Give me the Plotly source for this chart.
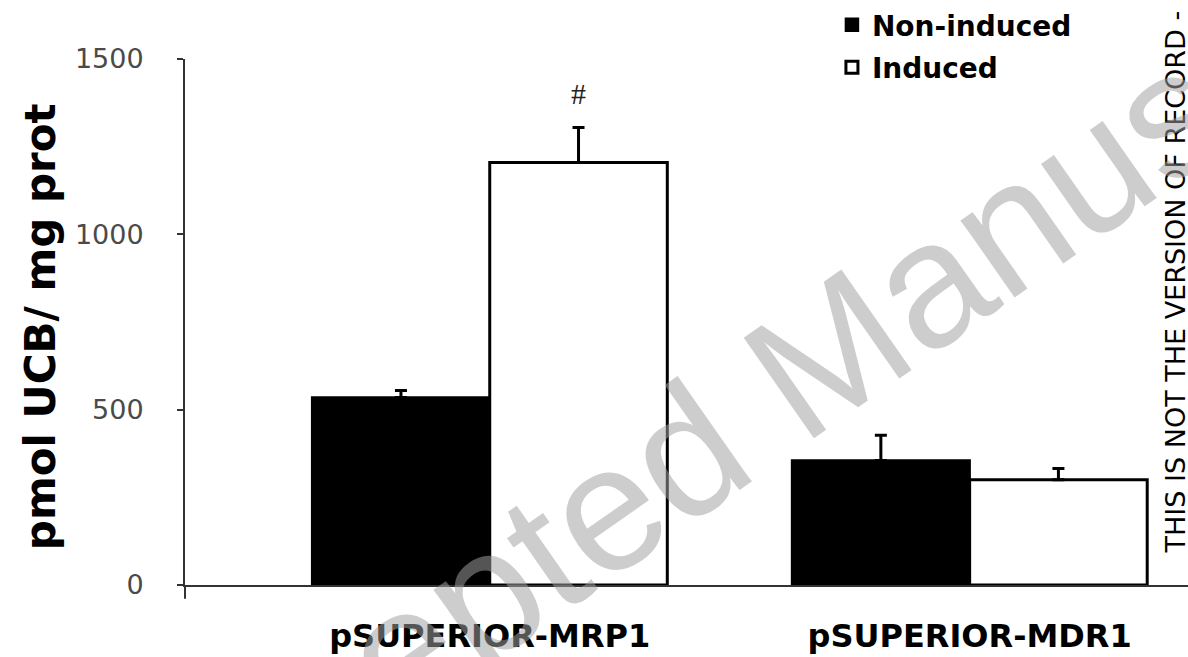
import plotly.graph_objects as go

categories = ["pSUPERIOR-MRP1", "pSUPERIOR-MDR1"]
series_names = ["Non-induced", "Induced"]
non_induced = [535, 355]
non_induced_err = [20, 72]
induced = [1205, 300]
induced_err = [100, 32]
y_ticks = [0, 500, 1000, 1500]
y_title = "pmol UCB/ mg prot"
sig_mark = "#"
side_note = "THIS IS NOT THE VERSION OF RECORD -"
watermark = "Accepted Manuscript"

fig = go.Figure()
fig.add_trace(go.Bar(
    name=series_names[0], x=categories, y=non_induced, legendgroup="g1",
    marker=dict(color="black", line=dict(color="black", width=2.5)),
    error_y=dict(type="data", symmetric=False, array=non_induced_err,
                 arrayminus=[0] * len(non_induced_err),
                 color="black", thickness=3, width=6),
))
fig.add_trace(go.Bar(
    name=series_names[1], x=categories, y=induced, legendgroup="g2",
    marker=dict(color="white", line=dict(color="black", width=3)),
    error_y=dict(type="data", symmetric=False, array=induced_err,
                 arrayminus=[0] * len(induced_err),
                 color="black", thickness=3, width=6),
))

fig.update_layout(
    width=1188, height=657,
    margin=dict(l=185, r=0, t=57, b=72),
    paper_bgcolor="white", plot_bgcolor="white",
    barmode="group", bargap=0.26, bargroupgap=0,
    showlegend=True,
    legend=dict(
        x=0.645, y=1.112, xanchor="left", yanchor="top",
        font=dict(family="DejaVu Sans", size=28, color="black", weight="bold"),
        bgcolor="rgba(0,0,0,0)", tracegroupgap=3, traceorder="grouped",
    ),
    xaxis=dict(
        range=[-0.635, 1.455], showline=True, linecolor="#333", linewidth=2,
        ticks="", showgrid=False, zeroline=False, automargin=False,
        tickfont=dict(family="DejaVu Sans", size=32, color="black", weight="bold"),
        ticklabelstandoff=22,
    ),
    yaxis=dict(
        range=[0, 1500], tickvals=y_ticks, showline=True, linecolor="#333",
        linewidth=2, ticks="outside", ticklen=6, tickcolor="#333", tickwidth=1.5,
        showgrid=False, zeroline=False, automargin=False,
        tickfont=dict(family="DejaVu Sans", size=27, color="#4a4a4a"),
        ticklabelstandoff=28,
    ),
    shapes=[dict(type="line", xref="paper", yref="paper", x0=0, x1=0,
                 y0=0, y1=-0.026, line=dict(color="#333", width=2))],
)

fig.add_annotation(
    text=y_title, xref="paper", yref="paper", x=-0.1446, y=0.492,
    xanchor="center", yanchor="middle", textangle=-90, showarrow=False,
    font=dict(family="DejaVu Sans", size=42, color="black", weight="bold"),
)
fig.add_annotation(
    text=sig_mark, x=0.185, y=induced[0] + induced_err[0], xref="x", yref="y",
    yanchor="bottom", yshift=15, showarrow=False,
    font=dict(family="Liberation Serif", size=30, color="#222"),
)
fig.add_annotation(
    text=side_note, xref="paper", yref="paper", x=0.988, y=0.057,
    xanchor="center", yanchor="bottom", textangle=-90, showarrow=False,
    font=dict(family="DejaVu Sans", size=27, color="black"),
)
fig.add_annotation(
    text=watermark, xref="paper", yref="paper", x=0.612, y=0.402,
    xanchor="center", yanchor="middle", textangle=-35, showarrow=False,
    font=dict(family="Liberation Sans", size=178, color="rgba(160,160,160,0.53)"),
)

fig.write_html("out.html")
